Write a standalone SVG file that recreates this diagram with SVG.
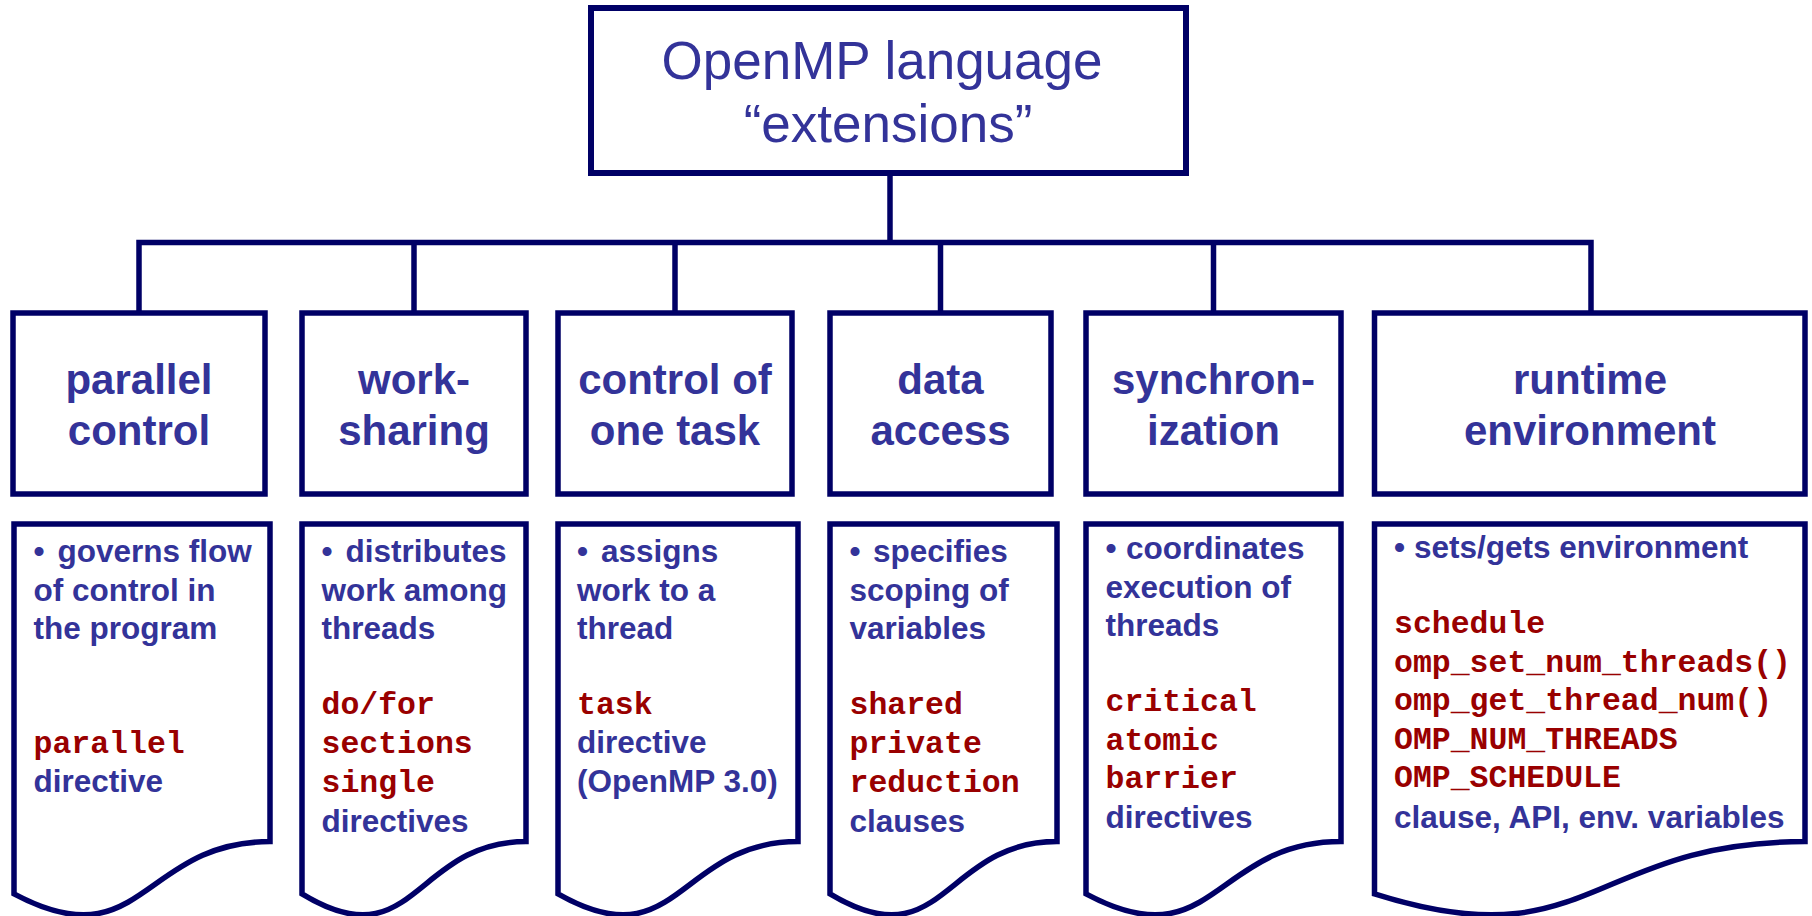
<svg xmlns="http://www.w3.org/2000/svg" width="1812" height="916" viewBox="0 0 1812 916">
<style>
.box{fill:#ffffff;stroke:#000066;stroke-width:5.5;stroke-linejoin:miter}
.conn{fill:none;stroke:#000066;stroke-width:5.5;stroke-linejoin:miter}
.title{font-family:"Liberation Sans",Arial,sans-serif;font-size:53px;fill:#333399;text-anchor:middle}
.head{font-family:"Liberation Sans",Arial,sans-serif;font-size:42px;font-weight:bold;fill:#333399;text-anchor:middle}
.txt{font-family:"Liberation Sans",Arial,sans-serif;font-size:31.5px;font-weight:bold;fill:#333399}
.code{font-family:"Liberation Mono","Courier New",monospace;font-size:31.5px;font-weight:bold;fill:#990000}
</style>
<rect width="1812" height="916" fill="#ffffff"/>
<g id="connectors">
<path class="conn" d="M890,173 V242.5"/>
<path class="conn" d="M139,313 V242.5 H1591 V313"/>
<path class="conn" d="M414,242.5 V313"/>
<path class="conn" d="M675,242.5 V313"/>
<path class="conn" d="M940.5,242.5 V313"/>
<path class="conn" d="M1213.5,242.5 V313"/>
</g>
<g id="root">
<rect class="box" x="591" y="8" width="595" height="165" style="stroke-width:6"/>
<text class="title" x="882" y="79">OpenMP language</text>
<text class="title" x="888" y="142">“extensions”</text>
</g>
<g id="parallel-control">
<rect class="box" x="13" y="313" width="252" height="181"/>
<text class="head" x="139" y="394">parallel</text>
<text class="head" x="139" y="445">control</text>
</g>
<g id="work-sharing">
<rect class="box" x="302" y="313" width="224" height="181"/>
<text class="head" x="414" y="394">work-</text>
<text class="head" x="414" y="445">sharing</text>
</g>
<g id="control-one-task">
<rect class="box" x="558" y="313" width="234" height="181"/>
<text class="head" x="675" y="394">control of</text>
<text class="head" x="675" y="445">one task</text>
</g>
<g id="data-access">
<rect class="box" x="830" y="313" width="221" height="181"/>
<text class="head" x="940.5" y="394">data</text>
<text class="head" x="940.5" y="445">access</text>
</g>
<g id="synchronization">
<rect class="box" x="1086" y="313" width="255" height="181"/>
<text class="head" x="1213.5" y="394">synchron-</text>
<text class="head" x="1213.5" y="445">ization</text>
</g>
<g id="runtime-environment">
<rect class="box" x="1374.5" y="313" width="430.5" height="181"/>
<text class="head" x="1590" y="394">runtime</text>
<text class="head" x="1590" y="445">environment</text>
</g>
<g id="doc-parallel">
<path class="box" d="M14,524 H270 V841.6 C142,841.6 142,962.4 14,893.9 Z"/>
<text class="txt" y="562"><tspan x="33.5">•</tspan><tspan x="57.5">governs flow</tspan></text>
<text class="txt" x="33.5" y="601">of control in</text>
<text class="txt" x="33.5" y="639">the program</text>
<text class="code" x="33.5" y="753">parallel</text>
<text class="txt" x="33.5" y="792">directive</text>
</g>
<g id="doc-worksharing">
<path class="box" d="M302,524 H526 V841.6 C414,841.6 414,962.4 302,893.9 Z"/>
<text class="txt" y="562"><tspan x="321.5">•</tspan><tspan x="345.5">distributes</tspan></text>
<text class="txt" x="321.5" y="601">work among</text>
<text class="txt" x="321.5" y="639">threads</text>
<text class="code" x="321.5" y="714">do/for</text>
<text class="code" x="321.5" y="753">sections</text>
<text class="code" x="321.5" y="792">single</text>
<text class="txt" x="321.5" y="832">directives</text>
</g>
<g id="doc-task">
<path class="box" d="M558,524 H798 V841.6 C678,841.6 678,962.4 558,893.9 Z"/>
<text class="txt" y="562"><tspan x="577">•</tspan><tspan x="601">assigns</tspan></text>
<text class="txt" x="577" y="601">work to a</text>
<text class="txt" x="577" y="639">thread</text>
<text class="code" x="577" y="714">task</text>
<text class="txt" x="577" y="753">directive</text>
<text class="txt" x="577" y="792">(OpenMP 3.0)</text>
</g>
<g id="doc-data">
<path class="box" d="M830,524 H1057 V841.6 C943.5,841.6 943.5,962.4 830,893.9 Z"/>
<text class="txt" y="562"><tspan x="849.5">•</tspan><tspan x="873">specifies</tspan></text>
<text class="txt" x="849.5" y="601">scoping of</text>
<text class="txt" x="849.5" y="639">variables</text>
<text class="code" x="849.5" y="714">shared</text>
<text class="code" x="849.5" y="753">private</text>
<text class="code" x="849.5" y="792">reduction</text>
<text class="txt" x="849.5" y="832">clauses</text>
</g>
<g id="doc-sync">
<path class="box" d="M1086,524 H1341 V841.6 C1213.5,841.6 1213.5,962.4 1086,893.9 Z"/>
<text class="txt" y="559"><tspan x="1105.5">•</tspan><tspan x="1126">coordinates</tspan></text>
<text class="txt" x="1105.5" y="597.5">execution of</text>
<text class="txt" x="1105.5" y="636">threads</text>
<text class="code" x="1105.5" y="711">critical</text>
<text class="code" x="1105.5" y="749.5">atomic</text>
<text class="code" x="1105.5" y="788">barrier</text>
<text class="txt" x="1105.5" y="828">directives</text>
</g>
<g id="doc-runtime">
<path class="box" d="M1374.5,524 H1805 V841.6 C1589.75,841.6 1589.75,962.4 1374.5,893.9 Z"/>
<text class="txt" y="558"><tspan x="1394">•</tspan><tspan x="1414">sets/gets environment</tspan></text>
<text class="code" x="1394" y="633">schedule</text>
<text class="code" x="1394" y="672">omp_set_num_threads()</text>
<text class="code" x="1394" y="710">omp_get_thread_num()</text>
<text class="code" x="1394" y="748.5">OMP_NUM_THREADS</text>
<text class="code" x="1394" y="787">OMP_SCHEDULE</text>
<text class="txt" x="1394" y="828">clause, API, env. variables</text>
</g>
</svg>
